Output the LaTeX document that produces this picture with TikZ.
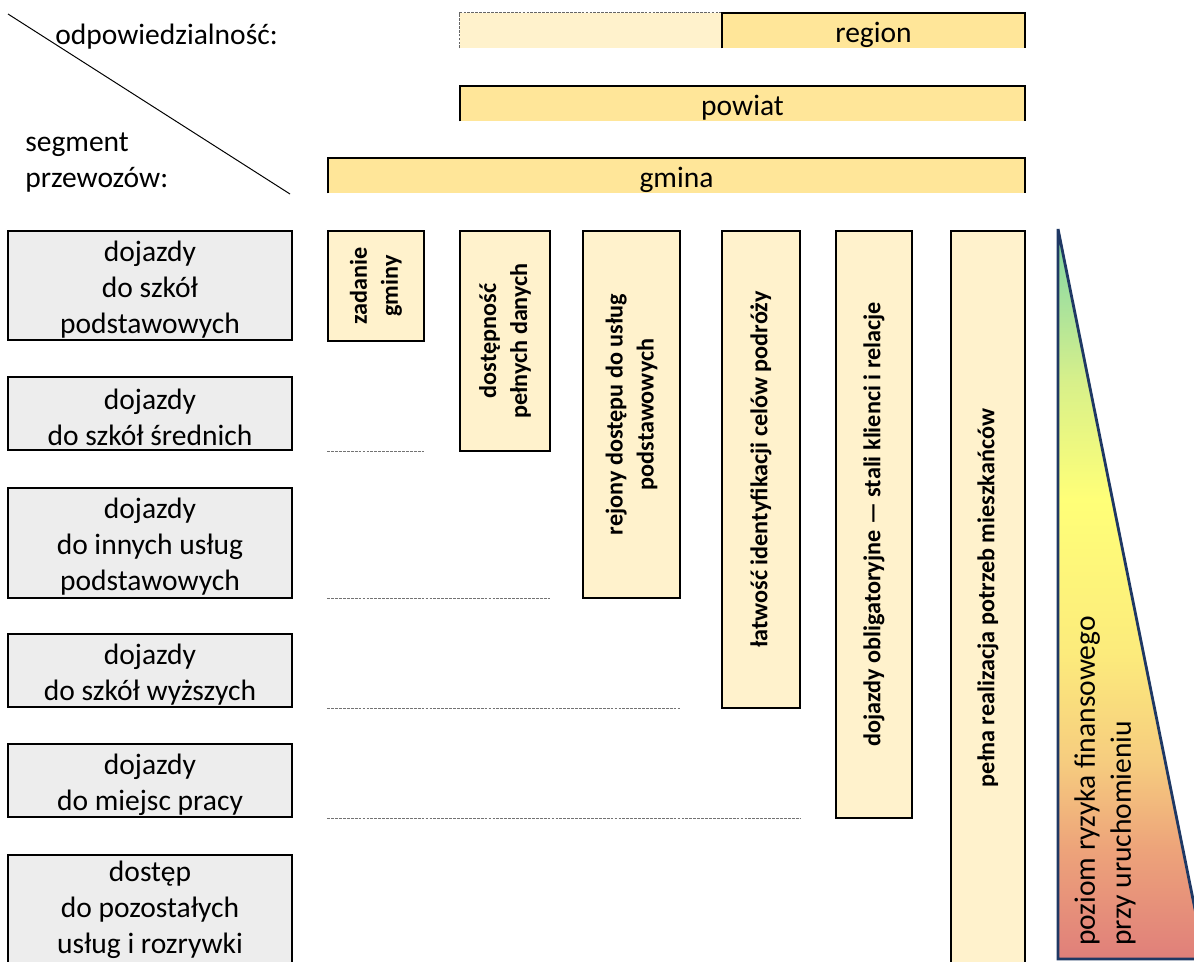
\documentclass[tikz,border=0pt]{standalone}
\usepackage{fontspec}
\setmainfont{Carlito}
\usetikzlibrary{fit,positioning}

\definecolor{gold}{HTML}{FFE699}
\definecolor{cream}{HTML}{FFF2CC}
\definecolor{lgray}{HTML}{EDEDED}
\definecolor{navy}{HTML}{1F3864}
\definecolor{riskA}{HTML}{E07F7A}
\definecolor{riskB}{HTML}{EDA37A}
\definecolor{riskC}{HTML}{F6CC7F}
\definecolor{riskD}{HTML}{FCEB7C}
\definecolor{riskE}{HTML}{FFFF78}
\definecolor{riskF}{HTML}{D8F08A}
\definecolor{riskG}{HTML}{A8E29C}
\definecolor{riskH}{HTML}{7FD6A0}
\pgfdeclareverticalshading{risk}{100bp}{color(0bp)=(riskA); color(25bp)=(riskA);
  color(32.5bp)=(riskB); color(38.5bp)=(riskC); color(46bp)=(riskD); color(56.5bp)=(riskE);
  color(64.5bp)=(riskF); color(70bp)=(riskG); color(75bp)=(riskH); color(100bp)=(riskH)}

\begin{document}
\begin{tikzpicture}[x=0.025cm, y=-0.025cm,
  font=\fontsize{21}{25.6}\selectfont,
  every node/.append style={align=center, inner sep=0pt},
  seg/.style={fill=lgray, draw, line width=1.2pt},
  feat/.style={fill=cream, draw, line width=1.2pt},
  resp/.style={fill=gold},
  lab/.style={yshift=-1mm},
  vlab/.style={rotate=90, font=\bfseries\fontsize{17.2}{22}\selectfont},
  guide/.style={black!55, line width=0.6pt, dash pattern=on 2pt off 0.8pt},
  border/.style={line width=1.2pt}]
 \useasboundingbox (0,0) rectangle (1194,961);

 % header
 \coordinate (d1) at (8,14);
 \coordinate (d2) at (290,194);
 \draw[line width=0.7pt] (d1) -- (d2);
 \node[anchor=west] (odp) at (55,37) {odpowiedzialność:};
 \node[anchor=west, align=left] (segm) at (25,163) {segment\\przewozów:};

 % responsibility bars
 \node[fill=cream, fit={(460,13) (722,48)}] (regl) {};
 \draw[black!60, line width=0.6pt, dash pattern=on 2pt off 0.8pt] (regl.south west) |- (regl.north east);
 \node[resp, fit={(722,13) (1025,48)}] (reg) {};
 \node[resp, fit={(460,86) (1025,121)}] (pow) {};
 \node[resp, fit={(328,158) (1025,193)}] (gmi) {};
 \foreach \b in {reg,pow,gmi}
   \draw[border] (\b.south west) |- (\b.north east) -- (\b.south east);
 \node[lab] (nreg) at (reg) {region};
 \node[lab] (npow) at (pow) {powiat};
 \node[lab] (ngmi) at (gmi) {gmina};

 % segments
 \node[seg, fit={(8,231) (292,340)}] (s1) {};
 \node[seg, fit={(8,377) (292,450)}] (s2) {};
 \node[seg, fit={(8,488) (292,598)}] (s3) {};
 \node[seg, fit={(8,634) (292,707)}] (s4) {};
 \node[seg, fit={(8,744) (292,817)}] (s5) {};
 \node[fill=lgray, fit={(8,855) (292,965)}] (s6) {};
 \draw[border] (s6.south west) |- (s6.north east) -- (s6.south east);
 \node[lab] (l1) at (s1) {dojazdy\\do szkół\\podstawowych};
 \node[lab] (l2) at (s2) {dojazdy\\do szkół średnich};
 \node[lab] (l3) at (s3) {dojazdy\\do innych usług\\podstawowych};
 \node[lab] (l4) at (s4) {dojazdy\\do szkół wyższych};
 \node[lab] (l5) at (s5) {dojazdy\\do miejsc pracy};
 \node (l6) at (s6) {dostęp\\do pozostałych\\usług i rozrywki};

 % features
 \node[feat, fit={(328,231) (424,341)}] (b1) {};
 \node[feat, fit={(460,231) (550,451)}] (b2) {};
 \node[feat, fit={(583,231) (680,598)}] (b3) {};
 \node[feat, fit={(722,231) (800,708)}] (b4) {};
 \node[feat, fit={(836,231) (912,818)}] (b5) {};
 \node[fill=cream, fit={(951,231) (1025,965)}] (b6) {};
 \draw[border] (b6.south west) |- (b6.north east) -- (b6.south east);

 \node[vlab] (t1) at (b1) {zadanie\\gminy};
 \node[vlab] (t2) at (b2) {dostępność\\pełnych danych};
 \node[vlab] (t3) at (b3) {rejony dostępu do usług\\podstawowych};
 \node[vlab] (t4) at (b4) {łatwość identyfikacji celów podróży};
 \node[vlab] (t5) at (b5) {dojazdy obligatoryjne — stali klienci i relacje};
 \node[vlab] (t6) at (b6) {pełna realizacja potrzeb mieszkańców};

 \draw[guide] (b1.west |- b2.south) -- (b1.east |- b2.south);
 \draw[guide] (b1.west |- b3.south) -- (b2.east |- b3.south);
 \draw[guide] (b1.west |- b4.south) -- (b3.east |- b4.south);
 \draw[guide] (b1.west |- b5.south) -- (b4.east |- b5.south);

 % risk wedge
 \coordinate (rt) at (1058,229);
 \coordinate (rb) at (1058,959);
 \coordinate (rc) at (1205,959);
 \shadedraw[shading=risk, draw=navy, line width=2pt] (rt) -- (rb) -- (rc) -- cycle;
 \node[rotate=90, anchor=north west, align=left] (rsk) at (1074,946) {poziom ryzyka finansowego\\przy uruchomieniu};
\end{tikzpicture}
\end{document}
